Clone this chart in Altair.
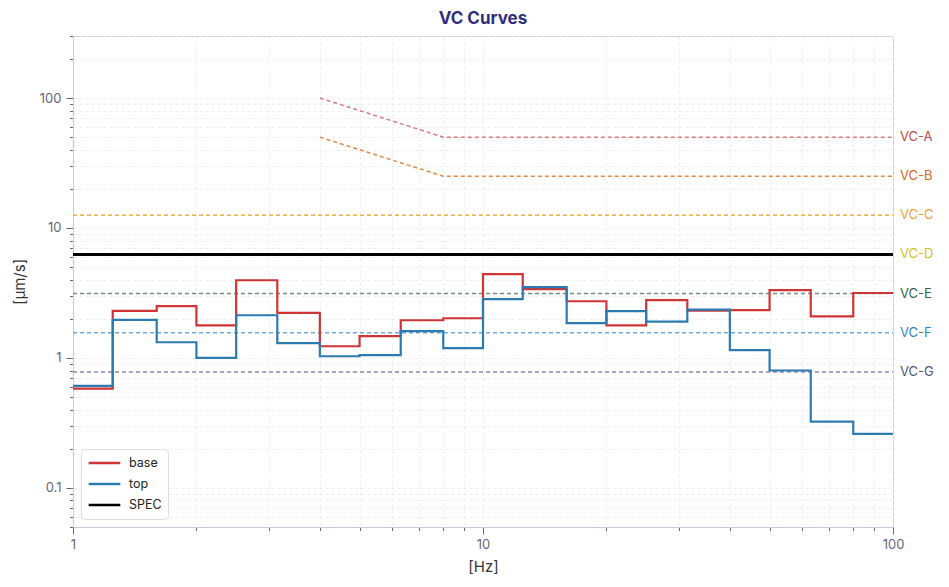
import altair as alt
import pandas as pd

# Band edges (Hz) for 1/3-octave bands from 1 to 100 Hz
edges = [1, 1.25, 1.6, 2, 2.5, 3.15, 4, 5, 6.3, 8, 10, 12.5, 16, 20, 25, 31.5, 40, 50, 63, 80, 100]
base_vals = [0.58, 2.30, 2.50, 1.78, 3.96, 2.22, 1.23, 1.47, 1.95, 2.02,
             4.41, 3.38, 2.73, 1.78, 2.78, 2.31, 2.33, 3.32, 2.09, 3.16]
top_vals = [0.61, 1.96, 1.32, 1.00, 2.13, 1.30, 1.03, 1.05, 1.61, 1.19,
            2.83, 3.50, 1.85, 2.29, 1.90, 2.35, 1.15, 0.80, 0.324, 0.26]
spec_value = 6.25

vc_names = ["VC-A", "VC-B", "VC-C", "VC-D", "VC-E", "VC-F", "VC-G"]
vc_freqs = [[4, 8, 100], [4, 8, 100], [1, 100], [1, 100], [1, 100], [1, 100], [1, 100]]
vc_vals = [[100, 50, 50], [50, 25, 25], [12.5, 12.5], [6.25, 6.25],
           [3.125, 3.125], [1.5625, 1.5625], [0.78, 0.78]]
vc_line_colors = ["#d67c7c", "#e08a45", "#f0ad48", "#e0cc30", "#6f9181", "#6ea9d8", "#8e89a8"]
vc_label_colors = ["#c0484b", "#d9661f", "#eea232", "#d2c01a", "#2f6652", "#2e86c1", "#55557a"]

series_names = ["base", "top", "SPEC"]
series_colors = ["#d03434", "#2c7bb0", "#000000"]

x_ticks = [1, 2, 3, 4, 5, 6, 7, 8, 9, 10, 20, 30, 40, 50, 60, 70, 80, 90, 100]
y_ticks = [0.05, 0.06, 0.07, 0.08, 0.09, 0.1, 0.2, 0.3, 0.4, 0.5, 0.6, 0.7, 0.8, 0.9,
           1, 2, 3, 4, 5, 6, 7, 8, 9, 10, 20, 30, 40, 50, 60, 70, 80, 90, 100, 200, 300]

# build tables
rows = []
for name, vals in (("base", base_vals), ("top", top_vals)):
    for i, f in enumerate(edges):
        v = vals[min(i, len(vals) - 1)]
        rows.append({"series": name, "f": f, "v": v, "order": i})
main_df = pd.DataFrame(rows)
spec_df = pd.DataFrame({"series": ["SPEC", "SPEC"], "f": [1, 100], "v": [spec_value, spec_value],
                        "order": [0, 1]})

vc_rows = []
for name, fs, vs in zip(vc_names, vc_freqs, vc_vals):
    for j, (f, v) in enumerate(zip(fs, vs)):
        vc_rows.append({"vc": name, "f": f, "v": v, "order": j})
vc_df = pd.DataFrame(vc_rows)
lab_df = pd.DataFrame({"vc": vc_names, "f": [100] * len(vc_names), "v": [vs[-1] for vs in vc_vals]})

major_test = "abs(log(datum.value)/LN10 - round(log(datum.value)/LN10)) < 1e-6"
label_expr = f"({major_test}) ? format(datum.value, '~g') : ''"

x_scale = alt.Scale(type="log", domain=[1, 100], nice=False)
y_scale = alt.Scale(type="log", domain=[0.05, 300], nice=False)

tick_size = {"condition": {"test": major_test, "value": 7}, "value": 3.5}
x_axis = alt.Axis(values=x_ticks, labelExpr=label_expr, title="[Hz]", tickSize=tick_size,
                  labelFlush=False, labelOverlap=False, labelPadding=4, titlePadding=8)
y_axis = alt.Axis(values=y_ticks, labelExpr=label_expr, title="[µm/s]", tickSize=tick_size,
                  labelFlush=False, labelOverlap=False, labelPadding=5, titlePadding=12)

X = alt.X("f:Q", scale=x_scale, axis=x_axis)
Y = alt.Y("v:Q", scale=y_scale, axis=y_axis)

color_enc = alt.Color("series:N", scale=alt.Scale(domain=series_names, range=series_colors),
                      sort=series_names,
                      legend=alt.Legend(title=None, orient="bottom-left", offset=8,
                                        symbolType="stroke", symbolSize=1000,
                                        symbolStrokeWidth=2.5, labelFontSize=12.5,
                                        labelFont="Inter", labelColor="#222",
                                        labelOffset=7, clipHeight=16, rowPadding=5,
                                        fillColor="white", strokeColor="#dcdce4",
                                        cornerRadius=4, padding=6))

vc_lines = alt.Chart(vc_df).mark_line(strokeDash=[4, 3], strokeWidth=1.5).encode(
    x=X, y=Y,
    stroke=alt.Stroke("vc:N", scale=alt.Scale(domain=vc_names, range=vc_line_colors), legend=None),
    order="order:Q",
)

vc_labels = alt.Chart(lab_df).mark_text(align="left", baseline="middle", dx=7, fontSize=13,
                                         font="Inter").encode(
    x=alt.X("f:Q", scale=x_scale), y=alt.Y("v:Q", scale=y_scale),
    text="vc:N",
    fill=alt.Fill("vc:N", scale=alt.Scale(domain=vc_names, range=vc_label_colors), legend=None),
)

spec = alt.Chart(spec_df).mark_line(strokeWidth=3).encode(
    x=X, y=Y, color=color_enc, order="order:Q",
)

main = alt.Chart(main_df).mark_line(interpolate="step-after", strokeWidth=2.2).encode(
    x=X, y=Y, color=color_enc, order="order:Q",
)

chart = alt.layer(vc_lines, spec, main, vc_labels).properties(
    width=820, height=491,
    autosize=alt.AutoSizeParams(type="none"),
    padding={"left": 65, "top": 28, "right": 48, "bottom": 52},
    title=alt.TitleParams("VC Curves", fontSize=17, fontWeight="bold", color="#2f2f7e",
                          font="Inter", anchor="middle", offset=2),
).configure(font="Inter").configure_view(stroke="#c8c8dc", strokeWidth=1).configure_axis(
    domainColor="#c8c8dc", tickColor="#666677", labelColor="#666677", labelFont="Inter",
    labelFontSize=13, titleFont="Inter", titleFontSize=15, titleFontWeight="normal",
    titleColor="#333333", gridColor="#e8e8ee", gridDash=[3, 3], gridWidth=0.8,
)

chart.save("out.html", embed_options={"renderer": "svg", "actions": False})
